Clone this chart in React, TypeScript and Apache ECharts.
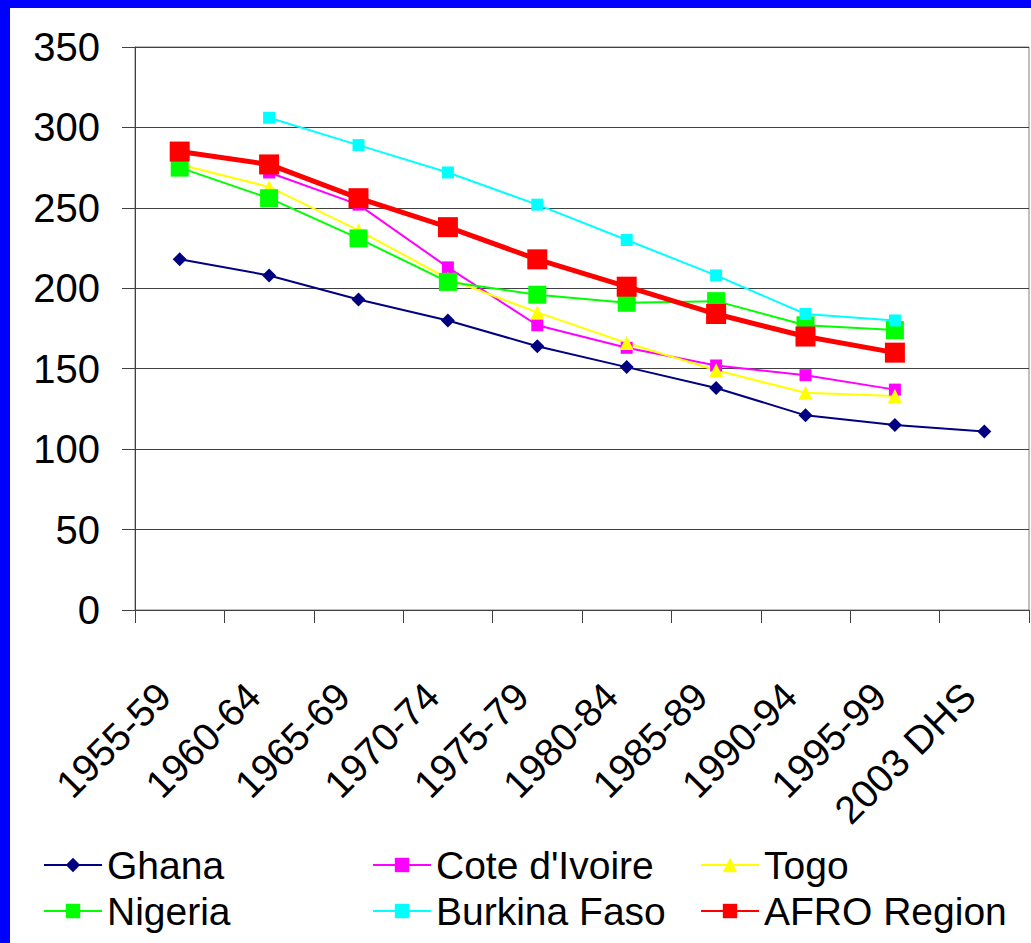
import React, { useEffect, useRef } from "react";
import * as echarts from "echarts";

const categories = ["1955-59", "1960-64", "1965-69", "1970-74", "1975-79", "1980-84", "1985-89", "1990-94", "1995-99", "2003 DHS"];
const ghana = [218, 208, 193, 180, 164, 151, 138, 121, 115, 111];
const coteDIvoire = [null, 272, 252, 213, 177, 163, 152, 146, 137, null];
const togo = [277, 263, 236, 206, 185, 166, 149, 135, 133, null];
const nigeria = [275, 256, 231, 204, 196, 191, 192, 177, 174, null];
const burkinaFaso = [null, 306, 289, 272, 252, 230, 208, 184, 180, null];
const afroRegion = [285, 277, 256, 238, 218, 201, 184, 170, 160, null];

const FONT = "'Liberation Sans', Arial, sans-serif";

export default function App() {
  const ref = useRef<HTMLDivElement>(null);
  useEffect(() => {
    document.body.style.margin = "0";
    const chart = echarts.init(ref.current!, null, { renderer: "svg" });
    const mk = (name: string, data: any[], color: string, symbol: string, size: number, width: number) => ({
      name,
      type: "line",
      data,
      symbol,
      symbolSize: size,
      showSymbol: true,
      connectNulls: false,
      itemStyle: { color, borderWidth: 0 },
      lineStyle: { color, width },
      emphasis: { disabled: true },
    });
    const legendCommon = {
      orient: "vertical",
      top: 845,
      itemWidth: 58,
      itemHeight: 18,
      itemGap: 6,
      padding: 0,
      textStyle: { fontSize: 39, color: "#000", fontFamily: FONT, lineHeight: 40 },
      selectedMode: false,
    };
    chart.setOption({
      animation: false,
      backgroundColor: "#fff",
      graphic: [
        { type: "rect", left: 0, top: 0, shape: { width: 10, height: 943 }, style: { fill: "#0000ff" } },
        { type: "rect", left: 0, top: 0, shape: { width: 1031, height: 8 }, style: { fill: "#0000ff" } },
      ],
      grid: { left: 135, right: 2, top: 47, bottom: 333, show: true, borderColor: "#808080", borderWidth: 1, backgroundColor: "transparent" },
      legend: [
        { ...legendCommon, left: 43, data: ["Ghana", "Nigeria"] },
        { ...legendCommon, left: 372, data: ["Cote d'Ivoire", "Burkina Faso"] },
        { ...legendCommon, left: 700, data: ["Togo", "AFRO Region"] },
      ],
      xAxis: {
        type: "category",
        data: categories,
        boundaryGap: true,
        axisLine: { lineStyle: { color: "#404040", width: 1 } },
        axisTick: { show: true, length: 13, alignWithLabel: false, lineStyle: { color: "#404040" } },
        axisLabel: { rotate: 45, fontSize: 39, color: "#000", fontFamily: FONT, margin: 64, interval: 0, padding: [0, 22, 0, 0] },
        splitLine: { show: false },
      },
      yAxis: {
        type: "value",
        min: 0,
        max: 350,
        interval: 50,
        axisLine: { show: true, lineStyle: { color: "#404040", width: 1 } },
        axisTick: { show: true, length: 13, lineStyle: { color: "#404040" } },
        axisLabel: { fontSize: 40, color: "#000", fontFamily: FONT, margin: 35 },
        splitLine: { show: true, lineStyle: { color: "#404040", width: 1 } },
      },
      series: [
        mk("Ghana", ghana, "#000080", "diamond", 14, 2),
        mk("Cote d'Ivoire", coteDIvoire, "#ff00ff", "rect", 12, 2),
        mk("Togo", togo, "#ffff00", "triangle", 14, 2),
        mk("Nigeria", nigeria, "#00ff00", "rect", 18, 2),
        mk("Burkina Faso", burkinaFaso, "#00ffff", "rect", 12, 2),
        mk("AFRO Region", afroRegion, "#ff0000", "rect", 20, 5),
      ],
    });
    return () => chart.dispose();
  }, []);
  return <div ref={ref} style={{ width: 1031, height: 943 }} />;
}
